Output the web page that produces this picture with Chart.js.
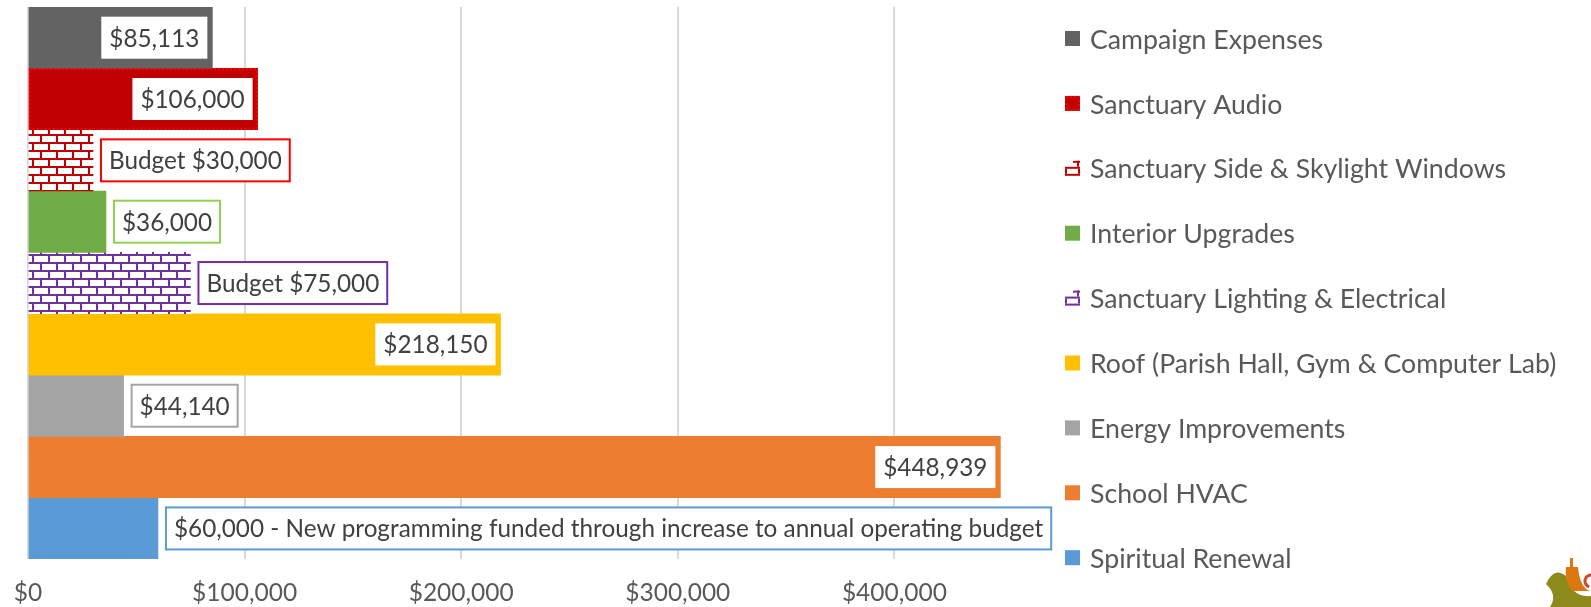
<!DOCTYPE html>
<html>
<head>
<meta charset="utf-8">
<script src="https://cdn.jsdelivr.net/npm/chart.js@4"></script>
<style>
  html, body { margin: 0; padding: 0; background: #fff; }
  #chart { display: block; }
</style>
</head>
<body>
<canvas id="chart" width="1591" height="607"></canvas>
<script>
// data
const categories = [""];
const seriesNames = [
  "Campaign Expenses",
  "Sanctuary Audio",
  "Sanctuary Side & Skylight Windows",
  "Interior Upgrades",
  "Sanctuary Lighting & Electrical",
  "Roof (Parish Hall, Gym & Computer Lab)",
  "Energy Improvements",
  "School HVAC",
  "Spiritual Renewal"
];
const seriesValues = [85113, 106000, 30000, 36000, 75000, 218150, 44140, 448939, 60000];
const labelTexts = [
  "$85,113",
  "$106,000",
  "Budget $30,000",
  "$36,000",
  "Budget $75,000",
  "$218,150",
  "$44,140",
  "$448,939",
  "$60,000 - New programming funded through increase to annual operating budget"
];
const tickValues = [0, 100000, 200000, 300000, 400000];
const axisMax = 500000;

// styles
const FAMILY = "Lato, 'Open Sans', sans-serif";
const LABEL_FONT = "24.3px " + FAMILY;
const LEGEND_FONT = "26.7px " + FAMILY;
const TEXT = "#595959";
const barColors = ["#636363", "#c00000", "brick:#c00000", "#70ad47", "brick:#7030a0", "#ffc000", "#a5a5a5", "#ed7d31", "#5b9bd5"];
const labelInside = [true, true, false, false, false, true, false, true, false];
const labelBorders = [null, null, "#ff0000", "#92d050", "#7030a0", null, "#a5a5a5", null, "#5b9bd5"];

function brick(color) {
  const c = document.createElement("canvas");
  c.width = 16; c.height = 16;
  const g = c.getContext("2d");
  g.fillStyle = "#fff";
  g.fillRect(0, 0, 16, 16);
  g.fillStyle = color;
  g.fillRect(0, 6, 16, 2);
  g.fillRect(0, 14, 16, 2);
  g.fillRect(0, 0, 2, 6);
  g.fillRect(8, 8, 2, 6);
  return g.createPattern(c, "repeat");
}

const fills = barColors.map(c => c.startsWith("brick:") ? brick(c.slice(6)) : c);

function dottedBox(ctx, x, y, w, h) {
  ctx.save();
  ctx.strokeStyle = "#ff0000";
  ctx.lineWidth = 2;
  ctx.setLineDash([2, 2]);
  ctx.strokeRect(x + 1, y + 1, w - 2, h - 2);
  ctx.restore();
}

// small piece of the brick pattern, as shown in the legend
function brickMarker(ctx, x, y, color) {
  ctx.fillStyle = "#fff";
  ctx.fillRect(x, y, 15, 15);
  ctx.fillStyle = color;
  ctx.fillRect(x + 8, y, 7, 2);
  ctx.fillRect(x + 12, y, 2, 6);
  ctx.fillRect(x, y + 6, 15, 2);
  ctx.fillRect(x, y + 8, 2, 5);
  ctx.fillRect(x + 13, y + 8, 2, 5);
  ctx.fillRect(x, y + 13, 15, 2);
}

const labelPlugin = {
  id: "boxLabels",
  afterDatasetsDraw(chart) {
    const ctx = chart.ctx;
    ctx.save();
    ctx.font = LABEL_FONT;
    ctx.textBaseline = "middle";
    seriesValues.forEach((v, i) => {
      const bar = chart.getDatasetMeta(i).data[0];
      const top = bar.y - bar.height / 2;
      if (i === 1) dottedBox(ctx, bar.base, top, bar.x - bar.base, bar.height);

      const w = ctx.measureText(labelTexts[i]).width + 16;
      const h = 42;
      const left = labelInside[i] ? bar.x - 5 - w : bar.x + 8;
      const y0 = bar.y - h / 2;
      ctx.fillStyle = "#fff";
      ctx.fillRect(left, y0, w, h);
      if (labelBorders[i]) {
        ctx.strokeStyle = labelBorders[i];
        ctx.lineWidth = 2;
        ctx.strokeRect(left, y0, w, h);
      }
      ctx.fillStyle = "#404040";
      ctx.fillText(labelTexts[i], left + 8, bar.y + 1);
    });
    ctx.restore();
  }
};

const legendPlugin = {
  id: "sideLegend",
  afterDraw(chart) {
    const ctx = chart.ctx;
    ctx.save();
    ctx.font = LEGEND_FONT;
    ctx.textBaseline = "middle";
    seriesNames.forEach((name, i) => {
      const y = 39 + 64.9 * i;
      if (barColors[i].startsWith("brick:")) {
        brickMarker(ctx, 1065, y - 8, barColors[i].slice(6));
      } else {
        ctx.fillStyle = fills[i];
        ctx.fillRect(1065, y - 8, 15, 15);
      }
      if (i === 1) dottedBox(ctx, 1065, y - 8, 15, 15);
      ctx.fillStyle = TEXT;
      ctx.fillText(name, 1090, y + 1);
    });

    // corner logo fragment
    ctx.fillStyle = "#8d8a1c";
    ctx.beginPath();
    ctx.moveTo(1546, 584);
    ctx.quadraticCurveTo(1554, 566, 1566, 576);
    ctx.quadraticCurveTo(1572, 598, 1591, 596);
    ctx.lineTo(1591, 607);
    ctx.lineTo(1550, 607);
    ctx.quadraticCurveTo(1558, 595, 1546, 584);
    ctx.fill();
    ctx.fillStyle = "#dc7810";
    ctx.beginPath();
    ctx.moveTo(1566, 567);
    ctx.lineTo(1578, 567);
    ctx.quadraticCurveTo(1580, 588, 1590, 591);
    ctx.lineTo(1572, 591);
    ctx.quadraticCurveTo(1564, 580, 1566, 567);
    ctx.fill();
    ctx.fillRect(1570, 558, 3, 10);
    ctx.strokeStyle = "#d8452a";
    ctx.lineWidth = 3;
    ctx.beginPath();
    ctx.arc(1591, 581, 6, Math.PI * 0.6, Math.PI * 1.6);
    ctx.stroke();
    ctx.restore();
  }
};

new Chart(document.getElementById("chart"), {
  type: "bar",
  data: {
    labels: categories,
    datasets: seriesNames.map((name, i) => ({
      label: name,
      data: [seriesValues[i]],
      backgroundColor: fills[i],
      borderWidth: 0,
      barPercentage: 1,
      categoryPercentage: 1
    }))
  },
  options: {
    indexAxis: "y",
    responsive: false,
    animation: false,
    layout: { padding: { left: 28, right: 480, top: 7, bottom: -3.5 } },
    plugins: {
      legend: { display: false },
      tooltip: { enabled: false }
    },
    scales: {
      x: {
        min: 0,
        max: axisMax,
        afterBuildTicks(axis) {
          axis.ticks = tickValues.map(v => ({ value: v })).concat([{ value: axisMax }]);
        },
        grid: {
          color: c => (c.tick && c.tick.value >= axisMax) ? "rgba(0,0,0,0)" : "#d9d9d9",
          lineWidth: 2,
          drawTicks: true,
          tickLength: 16,
          tickColor: "rgba(0,0,0,0)"
        },
        border: { display: false },
        ticks: {
          padding: 3,
          color: TEXT,
          font: { family: FAMILY, size: 24.5 },
          maxRotation: 0,
          callback: v => v >= axisMax ? "" : "$" + v.toLocaleString("en-US")
        }
      },
      y: { display: false }
    }
  },
  plugins: [labelPlugin, legendPlugin]
});
</script>
</body>
</html>
